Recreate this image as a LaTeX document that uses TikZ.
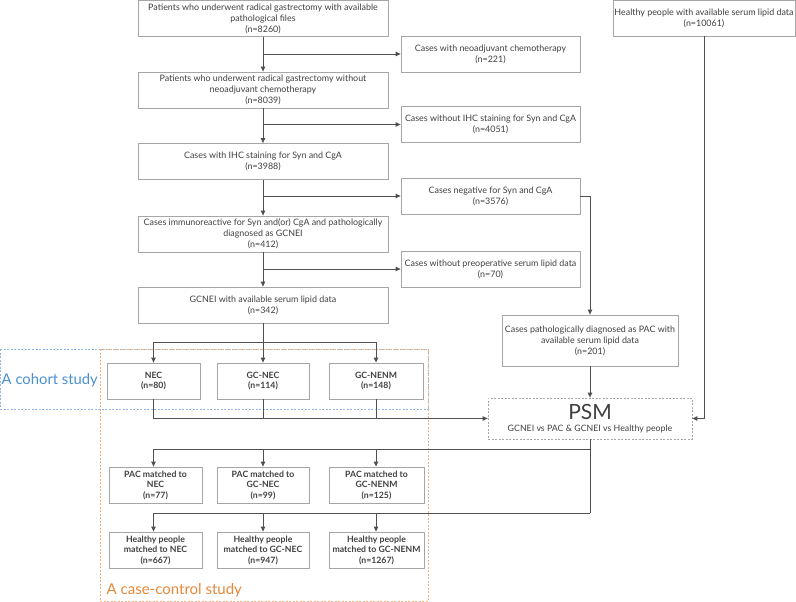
\documentclass[tikz,border=0pt]{standalone}
\usepackage{fontspec}
\setmainfont{Lato}
\usetikzlibrary{arrows.meta}
\definecolor{txt}{HTML}{404040}
\definecolor{bord}{HTML}{A6A6A6}
\definecolor{ln}{HTML}{505050}
\definecolor{cblue}{HTML}{4A90D0}
\definecolor{lblue}{HTML}{8DB8E2}
\definecolor{corange}{HTML}{E8883A}
\definecolor{lorange}{HTML}{F2B47E}
\tikzset{
  box/.style={draw=bord, line width=0.8pt, text=txt, align=center, inner sep=1pt,
    font=\fontsize{8.9}{11}\selectfont},
  mainbox/.style={box, minimum width=250pt, minimum height=36pt},
  sidebox/.style={box, minimum width=179pt, minimum height=36pt},
  grpbox/.style={box, minimum height=36pt, font=\bfseries\fontsize{8.7}{10.5}\selectfont},
  conn/.style={draw=ln, line width=0.9pt},
  arr/.style={conn, -{Triangle[length=5pt,width=4.5pt]}},
}
\begin{document}
\begin{tikzpicture}[x=1pt,y=-1pt]
\useasboundingbox (0,0) rectangle (796,602);
% dashed study frames
\draw[lblue, dashed, line width=0.7pt, dash pattern=on 2pt off 1.5pt] (0.5,349) rectangle (428,409);
\draw[lorange, dashed, line width=0.7pt, dash pattern=on 2pt off 1.5pt] (100,349) rectangle (428,601);
\node[text=cblue, font=\fontsize{14.8}{16}\selectfont, anchor=west, inner sep=0] (cohortlbl) at (1.5,380) {A cohort study};
\node[text=corange, font=\fontsize{15}{16}\selectfont, anchor=west, inner sep=0] (caselbl) at (106.5,590) {A case-control study};

% main column
\node[mainbox] (b1) at (263,18.5) {Patients who underwent radical gastrectomy with available\\pathological files\\(n=8260)};
\node[mainbox] (b2) at (263,90) {Patients who underwent radical gastrectomy without\\neoadjuvant chemotherapy\\(n=8039)};
\node[mainbox] (b3) at (263,161.5) {Cases with IHC staining for Syn and CgA\\(n=3988)};
\node[mainbox] (b4) at (263,234) {Cases immunoreactive for Syn and(or) CgA and pathologically\\diagnosed as GCNEI\\(n=412)};
\node[mainbox] (b5) at (263,305) {GCNEI with available serum lipid data\\(n=342)};

% side column
\node[sidebox] (s1) at (490.5,54) {Cases with neoadjuvant chemotherapy\\(n=221)};
\node[sidebox] (s2) at (490.5,124.5) {Cases without IHC staining for Syn and CgA\\(n=4051)};
\node[sidebox] (s3) at (490.5,196) {Cases negative for Syn and CgA\\(n=3576)};
\node[sidebox] (s4) at (490.5,269) {Cases without preoperative serum lipid data\\(n=70)};

\node[box, minimum width=182pt, minimum height=36pt] (hp) at (704,18) {Healthy people with available serum lipid data\\(n=10061)};
\node[box, minimum width=176pt, minimum height=51pt] (pac) at (590,340.5) {Cases pathologically diagnosed as PAC with\\available serum lipid data\\(n=201)};
\node[draw=bord, dashed, dash pattern=on 2pt off 1.5pt, line width=0.8pt, minimum width=204pt, minimum height=41pt, text=txt, align=center, inner sep=1pt] (psm) at (590,418.5)
  {{\fontsize{21}{21}\selectfont PSM}\\[0pt]{\fontsize{8.8}{10}\selectfont GCNEI vs PAC \& GCNEI vs Healthy people}};

% cohort groups
\node[grpbox, minimum width=93pt] (nec) at (153.5,381) {NEC\\(n=80)};
\node[grpbox, minimum width=92pt] (gnec) at (263,381) {GC-NEC\\(n=114)};
\node[grpbox, minimum width=94pt] (gnenm) at (376,381) {GC-NENM\\(n=148)};

% PAC matched
\node[grpbox, minimum width=93pt] (pnec) at (155.5,485) {PAC matched to\\NEC\\(n=77)};
\node[grpbox, minimum width=92pt] (pgnec) at (263,485) {PAC matched to\\GC-NEC\\(n=99)};
\node[grpbox, minimum width=95pt] (pgnenm) at (376.5,485) {PAC matched to\\GC-NENM\\(n=125)};

% Healthy matched
\node[grpbox, minimum width=93pt] (hnec) at (155.5,550) {Healthy people\\matched to NEC\\(n=667)};
\node[grpbox, minimum width=92pt] (hgnec) at (263,550) {Healthy people\\matched to GC-NEC\\(n=947)};
\node[grpbox, minimum width=95pt] (hgnenm) at (376.5,550) {Healthy people\\matched to GC-NENM\\(n=1267)};

% main chain
\draw[arr] (b1) -- (b2);
\draw[arr] (b2) -- (b3);
\draw[arr] (b3) -- (b4);
\draw[arr] (b4) -- (b5);
\draw[arr] (b1.south |- s1.west) -- (s1.west);
\draw[arr] (b2.south |- s2.west) -- (s2.west);
\draw[arr] (b3.south |- s3.west) -- (s3.west);
\draw[arr] (b4.south |- s4.west) -- (s4.west);

% negative -> PAC -> PSM
\draw[arr] (s3.east) -| (pac.north);
\draw[arr] (pac) -- (psm);
\draw[arr] (hp.south) |- (psm.east);

% split to cohort groups
\coordinate (j1) at (263,342);
\draw[conn] (b5.south) -- (j1);
\draw[arr] (j1) -| (nec.north);
\draw[arr] (j1) -- (gnec.north);
\draw[arr] (j1) -| (gnenm.north);

% cohort groups -> PSM
\draw[arr] (nec.south) |- (psm.west);
\draw[conn] (gnec.south) -- (gnec.south |- psm.west);
\draw[conn] (gnenm.south) -- (gnenm.south |- psm.west);

% PSM -> matched
\coordinate (m1) at (590,449);
\coordinate (m2) at (590,513);
\draw[conn] (psm.south) -- (m2);
\draw[arr] (m1) -| (pnec.north -| nec.south);
\draw[arr] (m1) -| (pgnec.north);
\draw[arr] (m1) -| (pgnenm.north -| gnenm.south);
\draw[arr] (m2) -| (hnec.north -| nec.south);
\draw[arr] (m2) -| (hgnec.north);
\draw[arr] (m2) -| (hgnenm.north -| gnenm.south);
\end{tikzpicture}
\end{document}
